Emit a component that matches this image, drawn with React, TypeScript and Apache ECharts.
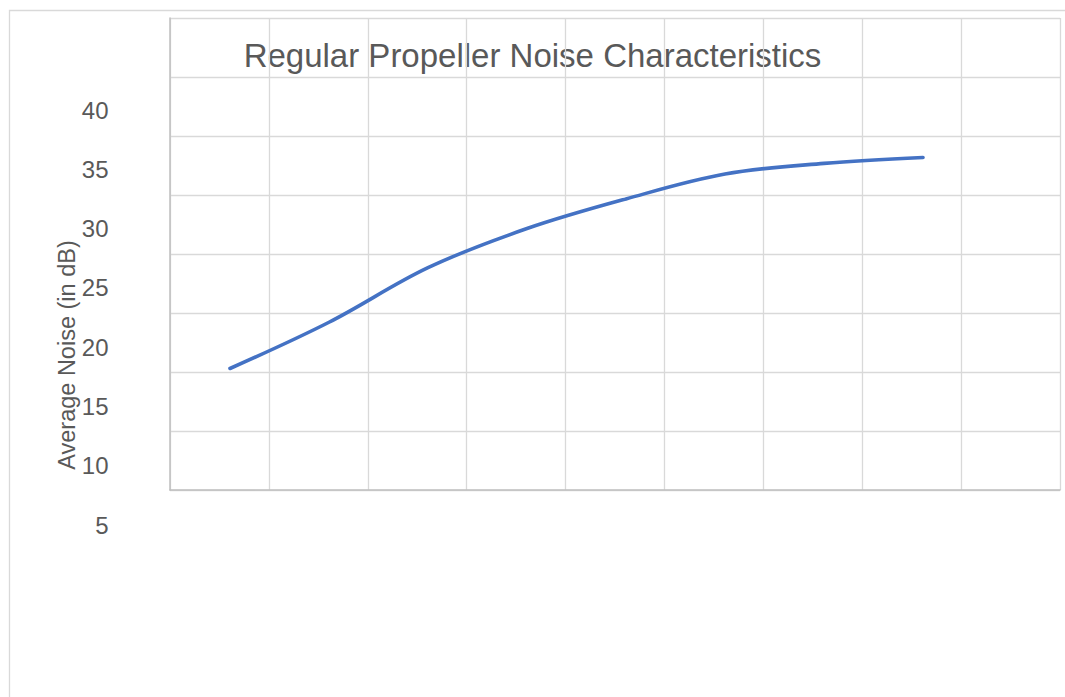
import React, { useEffect, useRef } from "react";
import * as echarts from "echarts";

// Measurement steps along the x axis (unlabelled on the chart)
const steps: string[] = ["1", "2", "3", "4", "5", "6", "7", "8"];
// Average noise per step, in dB
const avgNoise: number[] = [18.2, 22.1, 26.7, 30.0, 32.5, 34.6, 35.5, 36.0];
// Tick labels shown on the noise scale
const noiseMin = 5;
const noiseMax = 40;
const noiseStep = 5;

const TEXT = "#595959";
const FONT = "Liberation Sans, Arial, sans-serif";

export default function App() {
  const ref = useRef<HTMLDivElement>(null);

  useEffect(() => {
    if (!ref.current) return;
    const chart = echarts.init(ref.current, undefined, { renderer: "svg" });
    chart.setOption({
      animation: false,
      backgroundColor: "#ffffff",
      textStyle: { fontFamily: FONT },
      title: {
        text: "Regular Propeller Noise Characteristics",
        left: "center",
        top: 34,
        z: 1,
        textStyle: {
          fontFamily: FONT,
          fontSize: 33,
          fontWeight: "normal",
          color: TEXT,
        },
      },
      grid: [
        // plot frame with its 9 x 8 gridline cells
        { left: 170, right: 5, top: 18, bottom: 207, containLabel: false },
        // noise scale and the curve
        { left: 180.5, right: 92.5, top: 110, bottom: 172, containLabel: false },
      ],
      xAxis: [
        {
          gridIndex: 0,
          type: "value",
          min: 0,
          max: 9,
          interval: 1,
          z: 5,
          axisLine: { show: true, lineStyle: { color: "#bfbfbf", width: 1.5 } },
          axisTick: { show: false },
          axisLabel: { show: false },
          splitLine: { show: true, lineStyle: { color: "#d9d9d9", width: 1.3 } },
        },
        {
          gridIndex: 1,
          type: "category",
          data: steps,
          boundaryGap: true,
          show: false,
        },
      ],
      yAxis: [
        {
          gridIndex: 0,
          type: "value",
          min: 0,
          max: 8,
          interval: 1,
          z: 5,
          axisLine: { show: true, lineStyle: { color: "#bfbfbf", width: 1.5 } },
          axisTick: { show: false },
          axisLabel: { show: false },
          splitLine: { show: true, lineStyle: { color: "#d9d9d9", width: 1.3 } },
        },
        {
          gridIndex: 1,
          type: "value",
          min: noiseMin,
          max: noiseMax,
          interval: noiseStep,
          axisLine: { show: false },
          axisTick: { show: false },
          splitLine: { show: false },
          axisLabel: {
            show: true,
            margin: 72,
            fontFamily: FONT,
            fontSize: 24,
            color: TEXT,
          },
        },
      ],
      series: [
        {
          type: "line",
          name: "Average Noise",
          xAxisIndex: 1,
          yAxisIndex: 1,
          data: avgNoise,
          smooth: 0.35,
          showSymbol: false,
          z: 10,
          lineStyle: { color: "#4472C4", width: 3.6, cap: "round" },
        },
      ],
      graphic: [
        {
          type: "rect",
          z: -10,
          shape: { x: 9.5, y: 10.5, width: 1200, height: 800 },
          style: { fill: "none", stroke: "#d9d9d9", lineWidth: 1.3 },
          silent: true,
        },
        {
          type: "text",
          x: 67,
          y: 355,
          rotation: Math.PI / 2,
          style: {
            text: "Average Noise (in dB)",
            fontFamily: FONT,
            fontSize: 23.5,
            fill: TEXT,
            align: "center",
            verticalAlign: "middle",
          },
          silent: true,
        },
      ],
    });
    return () => chart.dispose();
  }, []);

  return (
    <div
      ref={ref}
      style={{ position: "absolute", left: 0, top: 0, width: 1065, height: 697 }}
    />
  );
}
